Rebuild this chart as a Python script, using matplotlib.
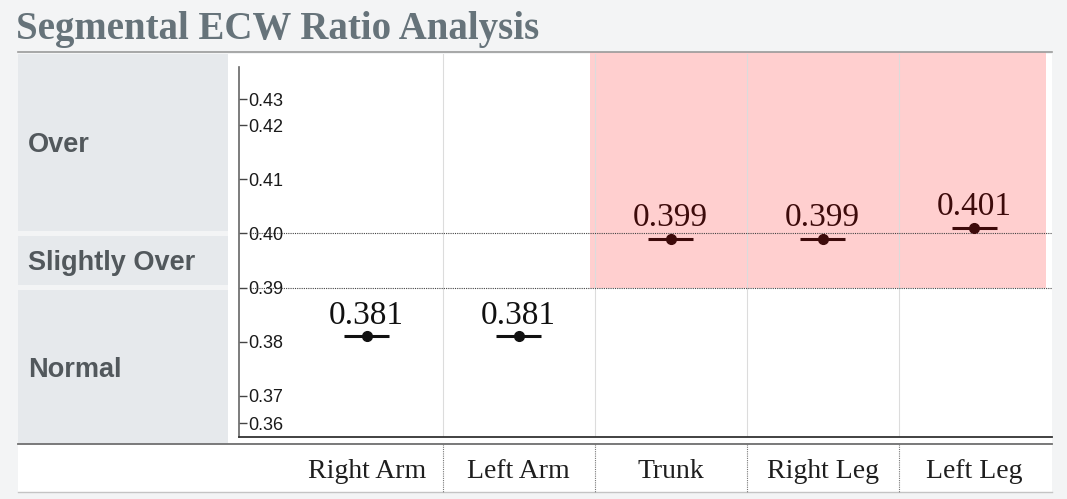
import numpy as np
import matplotlib
matplotlib.use("Agg")
import matplotlib.pyplot as plt
from matplotlib.patches import Rectangle
from matplotlib.lines import Line2D
from matplotlib.transforms import blended_transform_factory

segments = ["Right Arm", "Left Arm", "Trunk", "Right Leg", "Left Leg"]
ecw_ratio = [0.381, 0.381, 0.399, 0.399, 0.401]
value_labels = ["0.381", "0.381", "0.399", "0.399", "0.401"]
yticks = [0.36, 0.37, 0.38, 0.39, 0.40, 0.41, 0.42, 0.43]
bands = ["Normal", "Slightly Over", "Over"]
band_edges = [0.39, 0.40]

SERIF = ["Liberation Serif", "DejaVu Serif"]
SANS = ["Liberation Sans", "DejaVu Sans"]

# y axis is squeezed at both ends (0.36-0.37 and 0.42-0.43), u is in pixels
knot_v = [0.30, 0.36, 0.37, 0.42, 0.43, 0.50]
knot_u = [-148, 14, 41, 312, 338, 520]


def fwd(v):
    return np.interp(v, knot_v, knot_u)


def inv(u):
    return np.interp(u, knot_u, knot_v)


W, H = 1067, 499
fig = plt.figure(figsize=(W / 100, H / 100), dpi=100)
fig.patch.set_facecolor("#f3f4f5")


def fx(px):
    return px / W


def fy(py):
    return 1 - py / H


ax = fig.add_axes([fx(239), fy(437), fx(1052 - 239), (437 - 54) / H])
ax.set_facecolor("white")
ax.set_yscale("function", functions=(fwd, inv))
ax.set_ylim(inv(0), inv(383))
ax.set_xlim(-0.84, 4.51)

# white backgrounds (plot area + label row)
fig.add_artist(Rectangle((fx(228), fy(443)), fx(1052 - 228), (443 - 54) / H,
                         transform=fig.transFigure, facecolor="white",
                         edgecolor="none", zorder=-1))
fig.add_artist(Rectangle((fx(18), fy(492)), fx(1052 - 18), (492 - 444) / H,
                         transform=fig.transFigure, facecolor="white",
                         edgecolor="none", zorder=-1))
for py, col, lw in [(52, "#9a9a9a", 1.2), (444, "#6f6f6f", 1.3), (492, "#c4c4c4", 1.0)]:
    fig.add_artist(Line2D([fx(18), fx(1052)], [fy(py), fy(py)],
                          transform=fig.transFigure, color=col, lw=lw))

# category column on the left
bt = blended_transform_factory(fig.transFigure, ax.transData)
edges_u = [-6] + [float(fwd(e)) for e in band_edges] + [383]
for i, name in enumerate(bands):
    lo = edges_u[i] + (2.5 if i > 0 else 0)
    hi = edges_u[i + 1] - (2.5 if i < len(bands) - 1 else 0)
    ax.add_patch(Rectangle((fx(18), inv(lo)), fx(228 - 18), inv(hi) - inv(lo),
                           transform=bt, facecolor="#e6e9ec", edgecolor="none",
                           clip_on=False, zorder=0))
    ax.text(fx(28), inv((lo + hi) / 2), name, transform=bt, ha="left",
            va="center_baseline", fontsize=19.5, fontweight="bold",
            color="#52585c", family=SANS)

# highlighted region for segments above normal
ax.add_patch(Rectangle((1.47, band_edges[0]), 3.0, inv(385) - band_edges[0],
                       facecolor="#ffcfcf", edgecolor="none", zorder=0.5, clip_on=False))

for b in np.arange(0.5, len(segments) - 1, 1.0):
    ax.axvline(b, color="#dcdcdc", lw=0.8, zorder=1)
    fig.add_artist(Line2D([b, b], [fy(444), fy(492)],
                          transform=blended_transform_factory(ax.transData, fig.transFigure),
                          color="#777777", lw=0.8, ls=(0, (1, 1))))

ax.hlines(band_edges, -0.77, 4.51, colors="#444444", lw=0.8, ls=(0, (1, 1)), zorder=2)

for x, (v, lab) in enumerate(zip(ecw_ratio, value_labels)):
    col = "#111111" if v < band_edges[0] else "#3d0b0b"
    ax.errorbar(x, v, xerr=0.15, fmt="o", color=col, ms=7, elinewidth=2.2,
                capsize=0, zorder=3)
    ax.annotate(lab, (x, v), xytext=(0, 4), textcoords="offset points",
                ha="center", va="bottom", fontsize=24, color=col, family=SERIF)

for s in ["top", "right"]:
    ax.spines[s].set_visible(False)
ax.spines["left"].set_bounds(inv(0), inv(370))
ax.spines["left"].set_color("#666666")
ax.spines["left"].set_linewidth(1.2)
ax.spines["bottom"].set_color("#333333")
ax.spines["bottom"].set_linewidth(1.3)

ax.set_yticks(yticks)
ax.set_yticklabels([f"{t:.2f}" for t in yticks], family=SANS)
ax.yaxis.set_minor_locator(matplotlib.ticker.NullLocator())
ax.tick_params(axis="y", direction="in", length=6, width=1, color="#444444",
               pad=-6.5, labelsize=13, labelcolor="#1a1a1a")
for t in ax.get_yticklabels():
    t.set_horizontalalignment("left")

ax.set_xticks(range(len(segments)))
ax.set_xticklabels(segments, family=SERIF)
ax.tick_params(axis="x", length=0, pad=16, labelsize=20, labelcolor="#1e1e1e")

fig.text(fx(16), fy(30), "Segmental ECW Ratio Analysis", ha="left", va="center",
         fontsize=28, fontweight="bold", color="#66737a", family=SERIF)

fig.savefig("out.png", dpi=100, facecolor=fig.get_facecolor())
